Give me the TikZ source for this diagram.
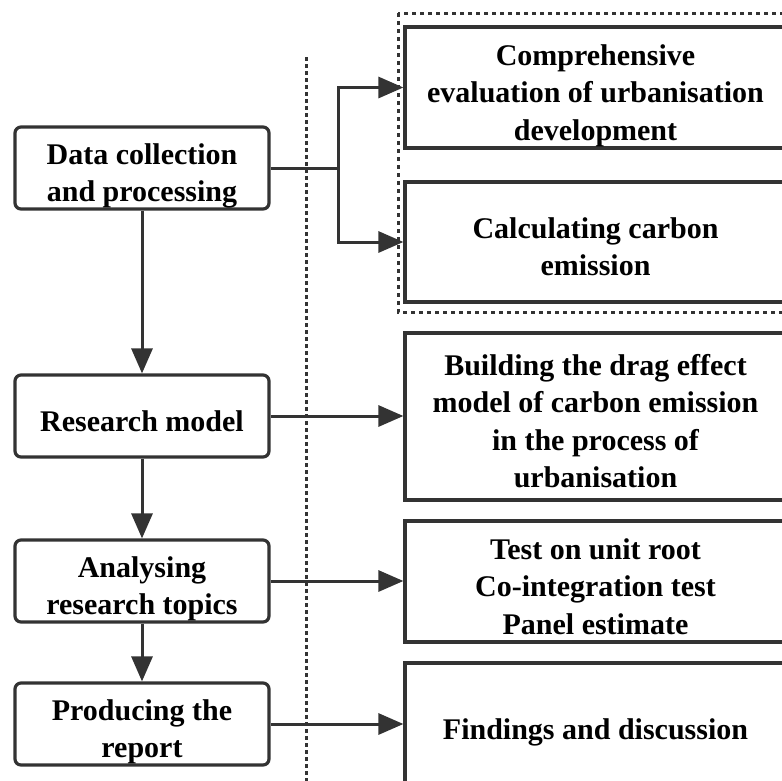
\documentclass[tikz,border=0pt]{standalone}
\usepackage{fontspec}
\setmainfont{Liberation Serif}
\usetikzlibrary{arrows.meta}
\definecolor{linegray}{RGB}{51,51,51}
% lines of a box, set a little below the middle
\newcommand{\boxtext}[1]{\raisebox{0pt}[\dimexpr\height+4pt\relax][\dimexpr\depth-11pt\relax]{\begin{tabular}{@{}c@{}}#1\end{tabular}}}
\begin{document}
\begin{tikzpicture}[x=1pt, y=-1pt,
        every node/.style={font=\fontsize{30}{37.5}\selectfont\bfseries},
        stagebox/.style={draw=linegray, line width=3.2pt, rounded corners=6pt,
            minimum width=254pt, minimum height=82pt, inner sep=0pt},
        taskbox/.style={draw=linegray, line width=3.2pt,
            minimum width=381pt, inner sep=0pt},
        flow/.style={draw=linegray, line width=3pt,
            -{Triangle[length=25pt, width=21pt]}}]
            \useasboundingbox (0,0) rectangle (782,780);

            % left column
            \node[stagebox] (data)   at (142, 168) {\boxtext{Data collection\\and processing}};
            \node[stagebox] (model)  at (142, 416) {\boxtext{Research model}};
            \node[stagebox] (topics) at (142, 581) {\boxtext{Analysing\\research topics}};
            \node[stagebox] (report) at (142, 724) {\boxtext{Producing the\\report}};

            % right column
            \node[taskbox, minimum height=121pt] (evalu)    at (595.5, 87.5) {\boxtext{Comprehensive\\evaluation of urbanisation\\development}};
            \node[taskbox, minimum height=120pt] (carbon)   at (595.5, 242)  {\boxtext{Calculating carbon\\emission}};
            \node[taskbox, minimum height=167pt] (drag)     at (595.5, 416.5) {\boxtext{Building the drag effect\\model of carbon emission\\in the process of\\urbanisation}};
            \node[taskbox, minimum height=121pt] (tests)    at (595.5, 581.5) {\boxtext{Test on unit root\\Co-integration test\\Panel estimate}};
            \node[taskbox, minimum height=122pt] (findings) at (595.5, 724)  {\boxtext{Findings and discussion}};

            % separators
            \draw[linegray, line width=3pt, dash pattern=on 3.5pt off 3.5pt] (306, 57) -- (306, 782);
            \draw[linegray, line width=3pt, dash pattern=on 4pt off 4pt] (398, 13) rectangle (792, 312);

            % connectors
            \coordinate (fork) at (338, 168);
            \draw[linegray, line width=3pt] (data.east) -- (fork);
            \draw[flow] (fork) |- (evalu.west);
            \draw[flow] (fork) |- (carbon.west);
            \draw[flow] (data) -- (model);
            \draw[flow] (model) -- (topics);
            \draw[flow] (topics) -- (report);
            \draw[flow] (model.east) -- (model.east -| drag.west);
            \draw[flow] (topics.east) -- (topics.east -| tests.west);
            \draw[flow] (report.east) -- (report.east -| findings.west);
        \end{tikzpicture}
\end{document}
